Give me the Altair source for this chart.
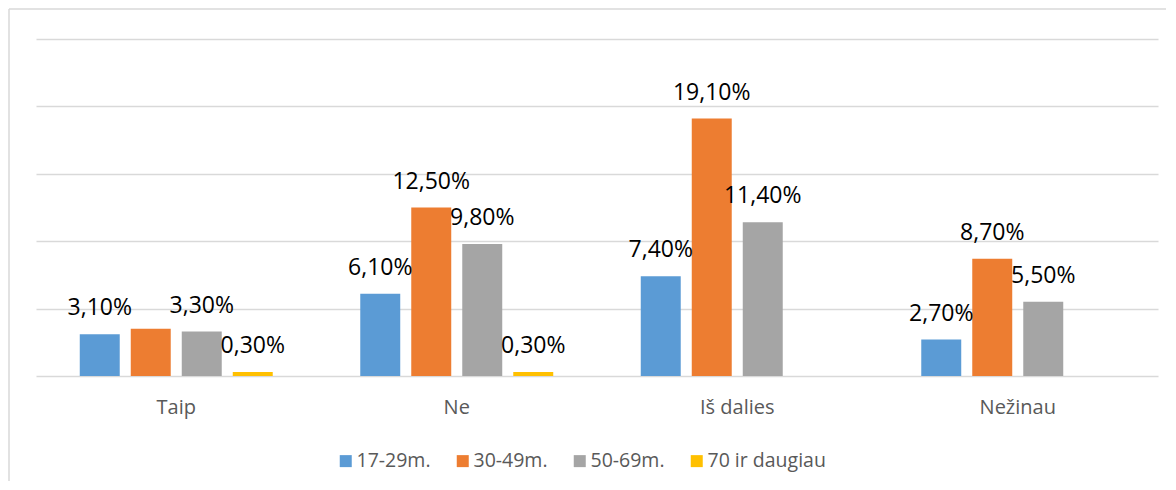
import altair as alt
import pandas as pd

categories = ["Taip", "Ne", "Iš dalies", "Nežinau"]
series = ["17-29m.", "30-49m.", "50-69m.", "70 ir daugiau"]
colors = ["#5B9BD5", "#ED7D31", "#A5A5A5", "#FFC000"]

v_17_29 = [3.1, 6.1, 7.4, 2.7]
v_30_49 = [3.5, 12.5, 19.1, 8.7]
v_50_69 = [3.3, 9.8, 11.4, 5.5]
v_70 = [0.3, 0.3, 0.0, 0.0]

show_17_29 = [True, True, True, True]
show_30_49 = [False, True, True, True]
show_50_69 = [True, True, True, True]
show_70 = [True, True, False, False]

y_ticks = [0, 5, 10, 15, 20, 25]

rows = []
for s, vals, shows in zip(series, [v_17_29, v_30_49, v_50_69, v_70],
                          [show_17_29, show_30_49, show_50_69, show_70]):
    for c, v, sh in zip(categories, vals, shows):
        rows.append({
            "category": c,
            "series": s,
            "value": v,
            "label": (f"{v:.2f}".replace(".", ",") + "%") if sh else "",
        })
df = pd.DataFrame(rows)

W, H = 1122, 337
FONT = "Open Sans"

x_enc = alt.X(
    "category:N", sort=categories,
    scale=alt.Scale(paddingInner=0, paddingOuter=0),
    axis=alt.Axis(title=None, labelAngle=0, ticks=False, domain=False,
                  labelPadding=21, labelFontSize=20, labelColor="#595959",
                  labelFont=FONT),
)
xoff_enc = alt.XOffset(
    "series:N", sort=series,
    scale=alt.Scale(paddingInner=0.216, paddingOuter=0.858),
)
y_enc = alt.Y(
    "value:Q",
    scale=alt.Scale(domain=[0, 25], nice=False),
    axis=alt.Axis(title=None, labels=False, ticks=False, domain=False,
                  values=y_ticks, gridColor="#D9D9D9", gridWidth=1.5),
)

base = alt.Chart(df).encode(x=x_enc, xOffset=xoff_enc, y=y_enc)

bars = base.mark_bar().encode(
    color=alt.Color(
        "series:N", sort=series,
        scale=alt.Scale(domain=series, range=colors),
        legend=alt.Legend(
            title=None, orient="none", legendX=300, legendY=412,
            direction="horizontal", symbolType="square", symbolSize=144,
            symbolStrokeWidth=0, labelFontSize=19.5, labelFont=FONT,
            labelColor="#595959", columnPadding=22, labelOffset=1, padding=0,
        ),
    )
)

labels = base.transform_filter(alt.datum.label != "").mark_text(
    baseline="alphabetic", align="center", dy=-19, fontSize=23,
    font=FONT, color="#000000",
).encode(text="label:N")

frame_df = pd.DataFrame({"k": [0]})
frame_left = alt.Chart(frame_df).mark_rule(color="#D9D9D9", strokeWidth=1.5).encode(
    x=alt.value(-27), y=alt.value(-30), y2=alt.value(H + 200)
)
frame_top = alt.Chart(frame_df).mark_rule(color="#D9D9D9", strokeWidth=1.5).encode(
    x=alt.value(-27), x2=alt.value(W + 200), y=alt.value(-30)
)

chart = alt.layer(bars, labels, frame_left, frame_top).properties(
    width=W, height=H,
    autosize=alt.AutoSizeParams(type="none"),
    padding={"left": 28, "top": 31, "right": 8, "bottom": 105},
    background="white",
).configure_view(stroke=None)

chart.save("out.html", embed_options={"renderer": "svg", "actions": False})
